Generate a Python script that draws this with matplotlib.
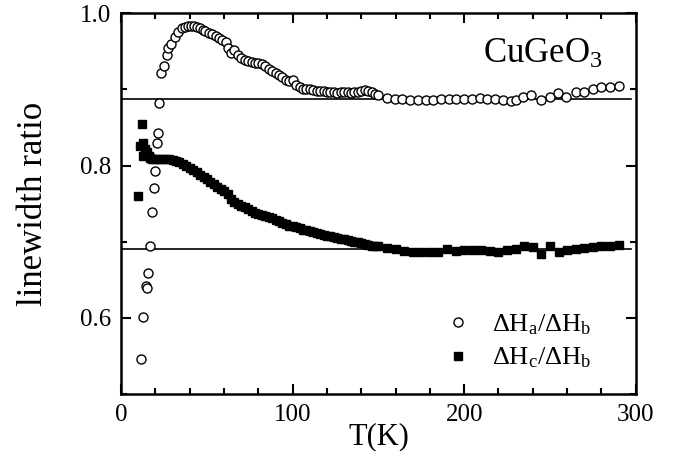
import matplotlib
matplotlib.use('Agg')
import matplotlib.pyplot as plt
from matplotlib.ticker import MultipleLocator

plt.rcParams['font.family'] = ['Liberation Serif', 'DejaVu Serif']
plt.rcParams['mathtext.fontset'] = 'custom'
plt.rcParams['mathtext.rm'] = 'Liberation Serif'
plt.rcParams['mathtext.it'] = 'Liberation Serif'

# open circles: dH_a / dH_b
temp_a = [11.6, 13.0, 14.4, 14.8, 15.9, 16.9, 17.9, 19.0, 19.8, 20.8, 21.7, 22.3,
          23.3, 25.2, 26.5, 27.5, 29.1, 31.4, 33.4, 35.4, 37.3, 39.0, 40.8, 42.5,
          44.3, 46.0, 47.5, 49.0, 51.0, 53.0, 55.0, 57.0, 59.0, 61.0, 62.5, 64.0,
          66.0, 68.0, 70.0, 72.0, 74.0, 76.0, 78.0, 80.0, 82.0, 84.0, 86.0, 88.0,
          90.0, 92.0, 94.0, 96.0, 98.0, 100.0, 102.0, 104.0, 106.0, 108.0, 110.0,
          112.0, 114.0, 116.0, 118.0, 120.0, 122.0, 124.0, 126.0, 128.0, 130.0,
          132.0, 134.0, 136.0, 138.0, 140.0, 142.0, 144.0, 146.0, 148.0, 150.0,
          155.0, 159.5, 164.0, 168.5, 173.0, 177.5, 182.0, 186.5, 191.0, 195.5,
          200.0, 204.5, 209.0, 213.5, 218.0, 222.5, 227.0, 230.0, 234.3, 239.2,
          244.6, 249.8, 254.7, 259.6, 265.0, 269.7, 275.0, 280.0, 285.0, 290.0]
ratio_a = [0.546, 0.601, 0.642, 0.639, 0.659, 0.694, 0.739, 0.770, 0.793, 0.829, 0.843, 0.882,
           0.921, 0.930, 0.945, 0.954, 0.960, 0.969, 0.975, 0.980, 0.982, 0.983, 0.983, 0.983,
           0.982, 0.980, 0.978, 0.976, 0.974, 0.972, 0.970, 0.967, 0.965, 0.962, 0.954, 0.947,
           0.951, 0.945, 0.941, 0.939, 0.937, 0.936, 0.935, 0.934, 0.933, 0.931, 0.927, 0.924,
           0.922, 0.919, 0.916, 0.912, 0.911, 0.912, 0.906, 0.903, 0.901, 0.900, 0.900,
           0.899, 0.898, 0.898, 0.898, 0.897, 0.897, 0.896, 0.895, 0.896, 0.896,
           0.896, 0.895, 0.896, 0.896, 0.898, 0.899, 0.898, 0.896, 0.894, 0.892,
           0.888, 0.887, 0.887, 0.886, 0.886, 0.886, 0.886, 0.887, 0.887, 0.887,
           0.887, 0.887, 0.888, 0.887, 0.887, 0.886, 0.885, 0.886, 0.890, 0.893,
           0.886, 0.890, 0.895, 0.890, 0.897, 0.897, 0.900, 0.903, 0.903, 0.904]

# filled squares: dH_c / dH_b
temp_c = [10, 11, 12, 12.5, 13, 14, 15, 16, 17, 18, 20, 22, 24, 26, 28, 30, 32, 34, 36,
          38, 40, 42, 44, 46, 48, 50, 52, 54, 56, 58, 60, 62, 64, 66, 68, 70, 72, 74,
          76, 78, 80, 82, 84, 86, 88, 90, 92, 94, 96, 98, 100, 102, 104, 106, 108, 110,
          112, 114, 116, 118, 120, 122, 124, 126, 128, 130, 132, 134, 136, 138, 140,
          142, 144, 146, 148, 150, 155, 160, 165, 170, 175, 180, 185, 190, 195, 200,
          205, 210, 215, 220, 225, 230, 235, 240, 245, 250, 255, 260, 265, 270, 275,
          280, 285, 290]
ratio_c = [0.760, 0.825, 0.855, 0.812, 0.829, 0.822, 0.818, 0.812, 0.810, 0.809, 0.808,
           0.808, 0.809, 0.808, 0.808, 0.807, 0.806, 0.804, 0.802, 0.800, 0.797, 0.794,
           0.791, 0.788, 0.785, 0.782, 0.779, 0.776, 0.772, 0.769, 0.766, 0.762, 0.756,
           0.752, 0.750, 0.747, 0.745, 0.743, 0.740, 0.738, 0.737, 0.735, 0.734, 0.733,
           0.731, 0.729, 0.727, 0.725, 0.723, 0.721, 0.720, 0.719, 0.718, 0.716, 0.715,
           0.714, 0.713, 0.711, 0.710, 0.709, 0.708, 0.707, 0.706, 0.705, 0.704, 0.703,
           0.702, 0.701, 0.700, 0.699, 0.698, 0.697, 0.696, 0.695, 0.694, 0.694, 0.692,
           0.690, 0.688, 0.687, 0.687, 0.686, 0.687, 0.690, 0.688, 0.689, 0.689, 0.689,
           0.688, 0.687, 0.689, 0.690, 0.694, 0.693, 0.684, 0.694, 0.687, 0.689, 0.691,
           0.692, 0.693, 0.694, 0.695, 0.696]

ref_levels = [0.887, 0.691]

fig = plt.figure(figsize=(6.77, 4.51), dpi=100)
ax = fig.add_axes([0.179, 0.126, 0.760, 0.845])

for lev in ref_levels:
    ax.axhline(lev, xmin=0, xmax=0.99, color='k', lw=1.2, zorder=1)

ax.plot(temp_c, ratio_c, 's', color='k', ms=6, mec='k', zorder=2,
        label=r'$\Delta\mathrm{H}_\mathrm{c}/\Delta\mathrm{H}_\mathrm{b}$')
ax.plot(temp_a, ratio_a, 'o', mfc='white', mec='k', mew=1.0, ms=6.5, zorder=3,
        label=r'$\Delta\mathrm{H}_\mathrm{a}/\Delta\mathrm{H}_\mathrm{b}$')

ax.set_xlim(0, 300)
ax.set_ylim(0.5, 1.0)
ax.xaxis.set_major_locator(MultipleLocator(100))
ax.xaxis.set_minor_locator(MultipleLocator(20))
ax.yaxis.set_major_locator(MultipleLocator(0.2))
ax.yaxis.set_minor_locator(MultipleLocator(0.1))
ax.tick_params(which='both', direction='in', top=True, right=True, width=1.5,
               labelsize=18)
ax.tick_params(which='major', length=7, pad=7)
ax.tick_params(which='minor', length=4)
for sp in ax.spines.values():
    sp.set_linewidth(1.8)

ax.set_xlabel('T(K)', fontsize=22, labelpad=-3)
ax.set_ylabel('linewidth ratio', fontsize=25, labelpad=22)

ax.text(0.935, 0.87, r'CuGeO$_3$', transform=ax.transAxes, fontsize=25,
        ha='right', va='baseline')

h, l = ax.get_legend_handles_labels()
leg = ax.legend(h[::-1], l[::-1], loc='lower right', bbox_to_anchor=(0.96, 0.0),
                frameon=False, fontsize=19, handletextpad=0.8, labelspacing=0.35,
                handlelength=1.0)

fig.savefig('out.png', dpi=100)
